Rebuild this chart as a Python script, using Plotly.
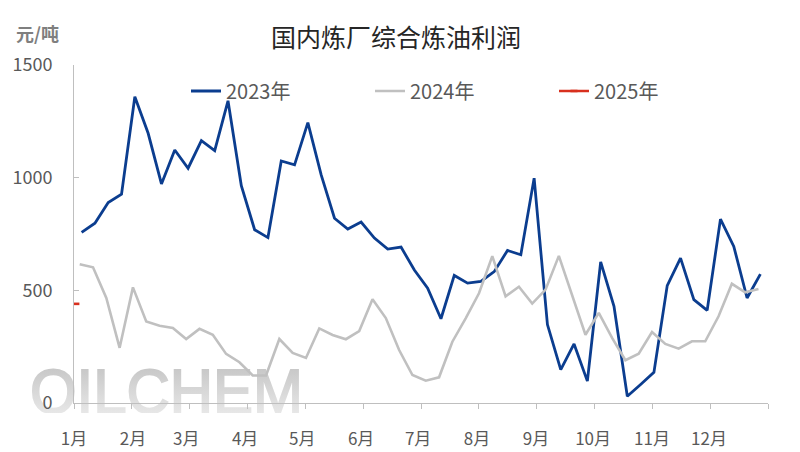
import base64
import pandas as pd
import plotly.graph_objects as go

# ---- data ----
months = ["1月", "2月", "3月", "4月", "5月", "6月", "7月", "8月", "9月", "10月", "11月", "12月"]
month_start_days = [0, 31, 59, 90, 120, 151, 181, 212, 243, 273, 304, 334]

dates_2023 = pd.date_range("2023-01-05", periods=52, freq="7D")
values_2023 = [757, 798, 890, 927, 1359, 1197, 972, 1123, 1042, 1164, 1120, 1341, 964,
               769, 734, 1074, 1057, 1244, 1012, 820, 772, 803, 732, 683, 692, 590,
               510, 374, 566, 532, 540, 583, 677, 658, 998, 348, 148, 262, 97,
               626, 429, 30, 82, 136, 521, 643, 459, 411, 816, 695, 466, 572]

dates_2024 = pd.date_range("2024-01-04", periods=52, freq="7D")
values_2024 = [616, 602, 466, 245, 513, 362, 343, 333, 284, 329, 303, 218, 181,
               122, 122, 284, 222, 200, 331, 302, 283, 319, 460, 377, 235, 124,
               99, 114, 272, 376, 487, 652, 473, 516, 441, 503, 653, 481, 303,
               400, 289, 190, 219, 315, 262, 241, 274, 274, 385, 529, 491, 506]

dates_2025 = pd.to_datetime(["2025-01-02"])
values_2025 = [440]

def day_of_year(d):
    return list(d.dayofyear - 1)

fig = go.Figure()
fig.add_trace(go.Scatter(x=day_of_year(dates_2023), y=values_2023, name="2023年", mode="lines",
                         line=dict(color="#0b3d8f", width=2.8)))
fig.add_trace(go.Scatter(x=day_of_year(dates_2024), y=values_2024, name="2024年", mode="lines",
                         line=dict(color="#c0c0c0", width=2.6)))
fig.add_trace(go.Scatter(x=day_of_year(dates_2025), y=values_2025, name="2025年", mode="lines+markers",
                         line=dict(color="#d8301e", width=2.6),
                         marker=dict(symbol="line-ew", size=5, line=dict(color="#d8301e", width=2.6))))

# watermark
svg = ("<svg xmlns='http://www.w3.org/2000/svg' width='560' height='72' viewBox='0 0 560 72'>"
       "<defs><linearGradient id='g' x1='0' y1='0' x2='0' y2='1'>"
       "<stop offset='0' stop-color='#bebebe'/><stop offset='1' stop-color='#f0f0f0'/>"
       "</linearGradient></defs>"
       "<text x='0' y='71.6' font-family='Liberation Sans' font-size='100' textLength='560' "
       "lengthAdjust='spacingAndGlyphs' fill='url(#g)' stroke='url(#g)' stroke-width='3'>OILCHEM</text></svg>")
src = "data:image/svg+xml;base64," + base64.b64encode(svg.encode()).decode()

# page body adds an 8px offset; figure is sized to fill the rest of the 800x452 window
OFF = 8
W, H = 800 - OFF, 452 - OFF
ML, MR, MT, MB = 74 - OFF, 32, 65 - OFF, 49
PW, PH = W - ML - MR, H - MT - MB

def px(xpix):
    return (xpix - 74) / PW

def py(ypix):
    return (403 - ypix) / PH

fig.add_layout_image(dict(source=src, xref="paper", yref="paper",
                          x=px(30), y=py(367), sizex=273 / PW, sizey=46 / PH,
                          xanchor="left", yanchor="top", sizing="stretch", layer="below"))

font_family = "Noto Sans CJK SC"
fig.update_layout(
    width=W, height=H, autosize=False,
    margin=dict(l=ML, r=MR, t=MT, b=MB, autoexpand=False),
    paper_bgcolor="white", plot_bgcolor="rgba(0,0,0,0)",
    font=dict(family=font_family, color="#595959"),
    title=dict(text="国内炼厂综合炼油利润", x=(396 - OFF) / W, xref="container", xanchor="center",
               y=1 - (38 - OFF) / H, yref="container", yanchor="middle",
               font=dict(size=25, color="#262626", family=font_family)),
    showlegend=True,
    legend=dict(orientation="h", x=px(186), xanchor="left",
                y=py(91), yanchor="middle",
                font=dict(size=20, color="#595959"),
                entrywidth=139, entrywidthmode="pixels",
                bgcolor="rgba(0,0,0,0)"),
    xaxis=dict(range=[0, 365], tickmode="array", tickvals=month_start_days, ticktext=months,
               ticks="", showgrid=False, zeroline=False, automargin=False,
               showline=True, linecolor="#bfbfbf", linewidth=1,
               tickfont=dict(size=17, color="#595959"), ticklabelstandoff=21,
               minor=dict(tickmode="linear", tick0=0, dtick=365 / 12, ticks="outside",
                          ticklen=5, tickcolor="#bfbfbf", showgrid=False)),
    yaxis=dict(range=[0, 1500], tickvals=[0, 500, 1000, 1500], ticks="inside", ticklen=5,
               tickcolor="#bfbfbf", showgrid=False, zeroline=False, automargin=False,
               showline=True, linecolor="#bfbfbf", linewidth=1,
               tickfont=dict(size=18, color="#595959"), ticklabelstandoff=17),
    annotations=[dict(text="<b>元/吨</b>", xref="paper", yref="paper",
                      x=px(14), y=py(33), xanchor="left", yanchor="middle",
                      showarrow=False, font=dict(size=18, color="#7f7f7f", family=font_family))],
)

fig.write_html("out.html")
